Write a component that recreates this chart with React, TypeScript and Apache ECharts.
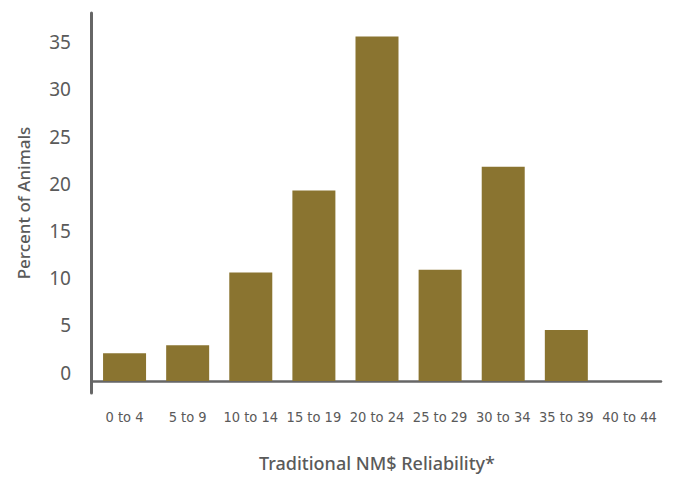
import React, { useEffect, useRef } from "react";
import * as echarts from "echarts";

const categories = ["0 to 4", "5 to 9", "10 to 14", "15 to 19", "20 to 24", "25 to 29", "30 to 34", "35 to 39", "40 to 44"];
const percentValues = [2.95, 3.8, 11.5, 20.2, 36.5, 11.8, 22.7, 5.4, 0];
const yTickValues = [0, 5, 10, 15, 20, 25, 30, 35];

const textColor = "#5a5a5a";
const axisColor = "#666666";
const barColor = "#8a7430";

export default function App() {
  const ref = useRef<HTMLDivElement>(null);

  useEffect(() => {
    if (!ref.current) return;
    const chart = echarts.init(ref.current, undefined, { renderer: "svg" });
    chart.setOption({
      animation: false,
      grid: { left: 93, right: 12, top: 13, bottom: 83, containLabel: false },
      xAxis: {
        type: "category",
        data: categories,
        boundaryGap: true,
        axisLine: { show: true, lineStyle: { color: axisColor, width: 2.5 } },
        axisTick: { show: false },
        axisLabel: {
          interval: 0,
          margin: 16,
          color: textColor,
          fontFamily: "'DejaVu Sans Condensed', 'Roboto Condensed', Roboto, sans-serif",
          fontSize: 14.5,
        },
        name: "Traditional NM$ Reliability*",
        nameLocation: "middle",
        nameGap: 61,
        nameTextStyle: {
          color: textColor,
          fontFamily: "Noto Sans",
          fontSize: 18,
          fontWeight: 500,
        },
      },
      yAxis: {
        type: "value",
        min: -1.27,
        max: 39,
        offset: 2,
        splitLine: { show: false },
        axisLine: { show: true, lineStyle: { color: axisColor, width: 3 } },
        axisTick: { show: false },
        axisLabel: {
          customValues: yTickValues,
          margin: 20,
          color: textColor,
          fontFamily: "Noto Sans",
          fontSize: 19,
          verticalAlign: "bottom",
          lineHeight: 17,
        },
        name: "Percent of Animals",
        nameLocation: "middle",
        nameGap: 59,
        nameTextStyle: {
          color: textColor,
          fontFamily: "Noto Sans",
          fontSize: 17,
          fontWeight: 500,
        },
      },
      series: [
        {
          type: "bar",
          data: percentValues,
          barWidth: 43,
          itemStyle: { color: barColor },
        },
      ],
    });
    return () => chart.dispose();
  }, []);

  return <div ref={ref} style={{ width: 673, height: 477, position: "absolute", left: 0, top: 0 }} />;
}
